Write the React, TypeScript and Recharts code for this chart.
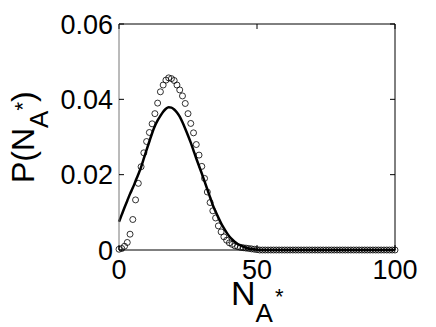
import { ComposedChart, Line, Scatter, XAxis, YAxis, ReferenceLine } from "recharts";

// N_A* values (x positions of the markers)
const nValues = [
  0, 1, 2, 3, 4, 5, 6, 7, 8, 9, 10, 11, 12, 13, 14, 15, 16, 17, 18, 19, 20,
  21, 22, 23, 24, 25, 26, 27, 28, 29, 30, 31, 32, 33, 34, 35, 36, 37, 38, 39,
  40, 41, 42, 43, 44, 45, 46, 47, 48, 49, 50, 51, 52, 53, 54, 55, 56, 57, 58,
  59, 60, 61, 62, 63, 64, 65, 66, 67, 68, 69, 70, 71, 72, 73, 74, 75, 76, 77,
  78, 79, 80, 81, 82, 83, 84, 85, 86, 87, 88, 89, 90, 91, 92, 93, 94, 95, 96,
  97, 98, 99, 100,
];

// simulated distribution (open circles)
const simulated = [
  0.0002, 0.0004, 0.001, 0.002, 0.0042, 0.0081, 0.0133, 0.0177, 0.0221,
  0.0258, 0.0288, 0.0312, 0.0335, 0.0362, 0.039, 0.042, 0.0438, 0.0451,
  0.0457, 0.0455, 0.045, 0.0438, 0.0425, 0.0409, 0.0389, 0.0362, 0.0336,
  0.0311, 0.028, 0.0252, 0.0222, 0.019, 0.0154, 0.0126, 0.0104, 0.0085,
  0.0064, 0.0048, 0.0035, 0.0026, 0.0019, 0.0015, 0.0011, 0.0009, 0.0007,
  0.0006, 0.0005, 0.0004, 0.0003, 0.0002, 0.0001, 0, 0, 0, 0, 0, 0, 0, 0, 0,
  0, 0, 0, 0, 0, 0, 0, 0, 0, 0, 0, 0, 0, 0, 0, 0, 0, 0, 0, 0, 0, 0, 0, 0, 0,
  0, 0, 0, 0, 0, 0, 0, 0, 0, 0, 0, 0, 0, 0, 0, 0,
];

// approximation (solid line)
const approx = [
  0.0075, 0.0094, 0.0113, 0.0131, 0.0149, 0.0165, 0.0183, 0.0201, 0.022,
  0.0243, 0.0266, 0.0288, 0.031, 0.0329, 0.0344, 0.0356, 0.0367, 0.0375,
  0.0379, 0.0378, 0.0373, 0.0365, 0.0354, 0.0339, 0.0322, 0.0304, 0.0285,
  0.0264, 0.0243, 0.0223, 0.0203, 0.0182, 0.0161, 0.014, 0.0119, 0.0102,
  0.0086, 0.0071, 0.0058, 0.0046, 0.0036, 0.0028, 0.0021, 0.0016, 0.0012,
  0.0009, 0.0006, 0.0004, 0.0003, 0.0002, 0.0001, 0, 0, 0, 0, 0, 0, 0, 0, 0,
  0, 0, 0, 0, 0, 0, 0, 0, 0, 0, 0, 0, 0, 0, 0, 0, 0, 0, 0, 0, 0, 0, 0, 0, 0,
  0, 0, 0, 0, 0, 0, 0, 0, 0, 0, 0, 0, 0, 0, 0, 0,
];

const xTicks = [0, 50, 100];
const yTicks = [0, 0.02, 0.04, 0.06];

const FONT = "'Liberation Sans', Arial, sans-serif";

const data = nValues.map((n, i) => ({ n, sim: simulated[i], fit: approx[i] }));

const fmtY = (v: number) => (v === 0 ? "0" : v.toFixed(2));

function YTick(props: any) {
  const { x, y, payload } = props;
  return (
    <g>
      <line x1={x + 6} x2={x + 11} y1={y} y2={y} stroke="#000" strokeWidth={1} />
      <line x1={x + 282} x2={x + 277} y1={y} y2={y} stroke="#000" strokeWidth={1} />
      <text x={x} y={y} dy="0.36em" textAnchor="end" fontSize={27} fontFamily={FONT} fill="#000">
        {fmtY(payload.value)}
      </text>
    </g>
  );
}

function XTick(props: any) {
  const { x, y, payload } = props;
  return (
    <g>
      <line x1={x} x2={x} y1={y} y2={y - 5} stroke="#000" strokeWidth={1} />
      <line x1={x} x2={x} y1={y - 226} y2={y - 221} stroke="#000" strokeWidth={1} />
      <text x={x} y={y + 29} textAnchor="middle" fontSize={27} fontFamily={FONT} fill="#000">
        {payload.value}
      </text>
    </g>
  );
}

function XLabel(props: any) {
  const vb = props.viewBox;
  const cx = vb.x + vb.width / 2;
  return (
    <text x={cx - 26} y={vb.y + 55} fontFamily={FONT} fill="#000" fontSize={34}>
      N
      <tspan fontSize={26} dy={17}>A</tspan>
      <tspan fontSize={22} dy={-18} dx={2}>*</tspan>
    </text>
  );
}

function YLabel(props: any) {
  const vb = props.viewBox;
  const x0 = 34;
  const y0 = vb.y + 159;
  return (
    <text
      x={x0}
      y={y0}
      transform={`rotate(-90, ${x0}, ${y0})`}
      fontFamily={FONT}
      fill="#000"
      fontSize={32}
    >
      P(N
      <tspan fontSize={26} dy={14}>A</tspan>
      <tspan fontSize={22} dy={-18}>*</tspan>
      <tspan fontSize={32} dy={4}>)</tspan>
    </text>
  );
}

export default function App() {
  return (
    <div style={{ position: "absolute", left: 0, top: 0, background: "#fff" }}>
      <ComposedChart
        width={436}
        height={327}
        data={data}
        margin={{ top: 24, right: 41, bottom: 0, left: 0 }}
      >
        <XAxis
          dataKey="n"
          type="number"
          domain={[0, 100]}
          ticks={xTicks}
          tickLine={false}
          tickSize={0}
          tickMargin={0}
          height={77}
          tick={<XTick />}
          axisLine={{ stroke: "#000", strokeWidth: 1 }}
          label={<XLabel />}
        />
        <YAxis
          type="number"
          domain={[0, 0.06]}
          ticks={yTicks}
          width={119}
          tickLine={false}
          tickSize={0}
          tickMargin={6}
          tick={<YTick />}
          axisLine={{ stroke: "#777", strokeWidth: 1 }}
          label={<YLabel />}
        />
        <ReferenceLine y={0.06} stroke="#000" strokeWidth={1} />
        <ReferenceLine x={100} stroke="#000" strokeWidth={1} />
        <Line
          dataKey="fit"
          type="monotone"
          stroke="#000"
          strokeWidth={2.5}
          dot={false}
          isAnimationActive={false}
        />
        <Scatter
          dataKey="sim"
          shape={(p: any) => (
            <circle cx={p.cx} cy={p.cy} r={3} fill="none" stroke="#000" strokeWidth={0.8} />
          )}
          isAnimationActive={false}
        />
      </ComposedChart>
    </div>
  );
}
